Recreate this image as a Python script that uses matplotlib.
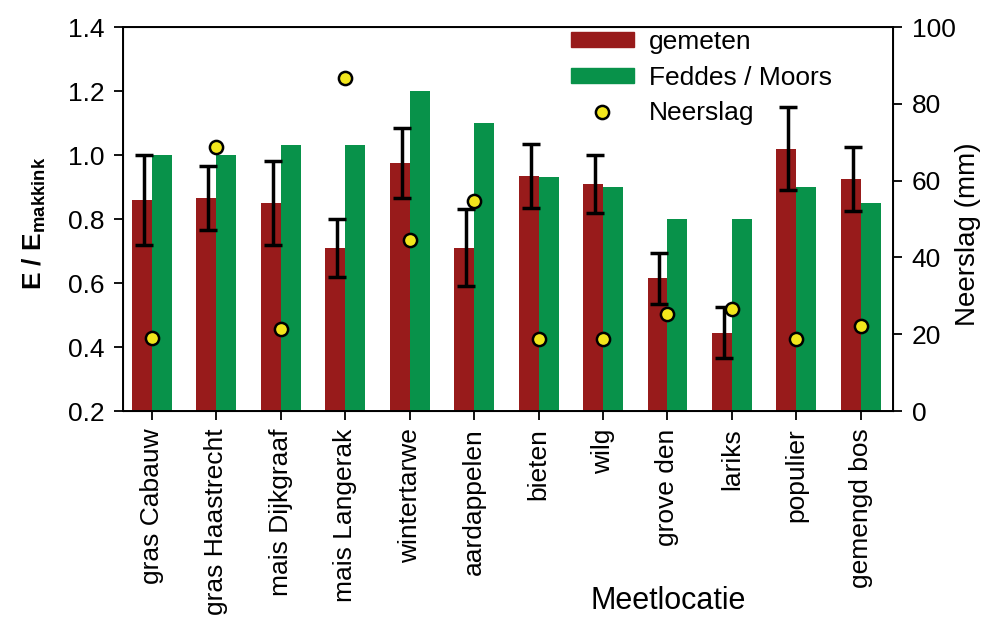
import numpy as np
import matplotlib.pyplot as plt
from matplotlib.patches import Patch
from matplotlib.lines import Line2D

plt.rcParams['font.family'] = ['Liberation Sans', 'DejaVu Sans']

locaties = ['gras Cabauw', 'gras Haastrecht', 'mais Dijkgraaf', 'mais Langerak',
            'wintertarwe', 'aardappelen', 'bieten', 'wilg', 'grove den',
            'lariks', 'populier', 'gemengd bos']
gemeten = [0.86, 0.865, 0.85, 0.71, 0.975, 0.71, 0.935, 0.91, 0.615, 0.445, 1.02, 0.925]
gemeten_fout = [0.14, 0.10, 0.13, 0.09, 0.11, 0.12, 0.10, 0.09, 0.08, 0.08, 0.13, 0.10]
feddes = [1.0, 1.0, 1.03, 1.03, 1.2, 1.1, 0.93, 0.90, 0.80, 0.80, 0.90, 0.85]
neerslag = [19.0, 68.8, 21.4, 86.7, 44.5, 54.7, 18.8, 18.9, 25.4, 26.6, 18.9, 22.2]

rood = '#981b1b'
groen = '#08924a'
geel = '#f2e61c'

fig = plt.figure(figsize=(9.85, 6.21), dpi=100)
ax = fig.add_axes([0.1249, 0.338, 0.7817, 0.6185])

x = np.arange(len(locaties))
w = 0.31
ax.bar(x - w/2, gemeten, w, color=rood, zorder=2)
ax.bar(x + w/2, feddes, w, color=groen, zorder=2)
ax.errorbar(x - w/2 + 0.03, gemeten, yerr=gemeten_fout, fmt='none', ecolor='black',
            elinewidth=2.5, capsize=6.5, capthick=2.5, zorder=3)

ax.set_ylim(0.2, 1.4)
ax.set_xlim(-0.45, 11.5)
ax.set_yticks(np.arange(0.2, 1.41, 0.2))
ax.set_yticklabels(['%.1f' % v for v in np.arange(0.2, 1.41, 0.2)])
ax.set_xticks(x)
ax.set_xticklabels(locaties, rotation=90, fontsize=19)
ax.tick_params(axis='y', labelsize=19, length=6.5, width=1.3, direction='out', pad=7)
ax.tick_params(axis='x', length=6.5, width=1.3, direction='out', pad=6)
ax.set_ylabel('E / E$_{\\mathregular{makkink}}$', fontsize=19, fontweight='bold')
ax.yaxis.set_label_coords(-0.097, 0.49)
ax.set_xlabel('Meetlocatie', fontsize=22)
ax.xaxis.set_label_coords(0.708, -0.455)
for s in ax.spines.values():
    s.set_linewidth(1.4)

ax2 = ax.twinx()
ax2.plot(x, neerslag, 'o', markersize=9.5, markerfacecolor=geel,
         markeredgecolor='black', markeredgewidth=1.8, zorder=4)
ax2.set_ylim(0, 100)
ax2.set_yticks(np.arange(0, 101, 20))
ax2.tick_params(axis='y', labelsize=19, length=6.5, width=1.3, direction='out', pad=7)
ax2.set_ylabel('Neerslag (mm)', fontsize=20)
ax2.yaxis.set_label_coords(1.08, 0.46)

handles = [Patch(color=rood, label='gemeten'),
           Patch(color=groen, label='Feddes / Moors'),
           Line2D([], [], marker='o', linestyle='none', markersize=9.5,
                  markerfacecolor=geel, markeredgecolor='black',
                  markeredgewidth=1.8, label='Neerslag')]
ax2.legend(handles=handles, loc='upper left', bbox_to_anchor=(0.578, 1.0),
           frameon=False, fontsize=19, handlelength=2.4, handleheight=0.5,
           labelspacing=0.45, handletextpad=0.55, borderpad=0, borderaxespad=0.1)

fig.savefig('out.png', dpi=100)
